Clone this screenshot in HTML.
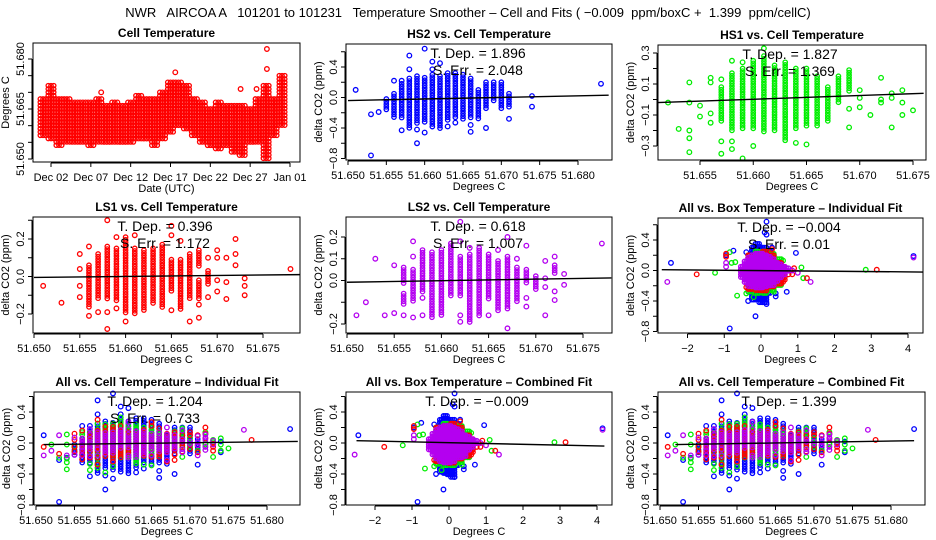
<!DOCTYPE html>
<html><head><meta charset="utf-8"><style>
body{margin:0;background:#fff}
svg{display:block;font-family:"Liberation Sans",Arial,sans-serif}
</style></head><body>
<svg id="c" width="936" height="540" viewBox="0 0 936 540">
<text x="468" y="17" text-anchor="middle" font-size="13" style="white-space:pre" xml:space="preserve">NWR   AIRCOA A   101201 to 101231   Temperature Smoother – Cell and Fits ( −0.009  ppm/boxC +  1.399  ppm/cellC)</text>
</svg>
<script>
// ---- data ----
const cellDays=[0,1,2,3,4,5,6,7,8,9,10,11,12,13,14,15,16,17,18,19,20,21,22,23,24,25,26,27,28,29,30];
const cellLo=[51.657,51.656,51.654,51.655,51.655,51.655,51.654,51.655,51.655,51.655,51.655,51.655,51.656,51.656,51.654,51.656,51.658,51.660,51.659,51.657,51.655,51.654,51.653,51.654,51.652,51.651,51.655,51.655,51.650,51.657,51.660];
const cellHi=[51.668,51.672,51.668,51.668,51.667,51.667,51.667,51.668,51.666,51.667,51.666,51.667,51.669,51.668,51.668,51.670,51.673,51.673,51.672,51.668,51.667,51.665,51.667,51.666,51.666,51.666,51.665,51.668,51.672,51.668,51.675];
const cellOut=[[7.3,51.670],[16.6,51.676],[24.8,51.671],[28.1,51.683],[28.1,51.677],[26.8,51.671]];
const dayTicks=[1,6,11,16,21,26,31];
const dayLabels=["Dec 02","Dec 07","Dec 12","Dec 17","Dec 22","Dec 27","Jan 01"];

const hs2Cols=[[51.655,-0.17,-0.02],[51.656,-0.27,0.05],[51.657,-0.27,0.18],[51.658,-0.4,0.25],[51.659,-0.35,0.28],[51.660,-0.35,0.26],[51.661,-0.4,0.3],[51.662,-0.42,0.28],[51.663,-0.32,0.32],[51.664,-0.28,0.32],[51.665,-0.3,0.3],[51.666,-0.27,0.25],[51.667,-0.28,0.1],[51.668,-0.15,0.2],[51.669,-0.05,0.2],[51.670,-0.15,0.2],[51.671,-0.15,0.05],[51.674,0,0.02]];
const hs2Pts=[[51.651,0.1],[51.653,-0.22],[51.653,-0.76],[51.654,-0.19],[51.656,0.22],[51.657,-0.43],[51.657,0.22],[51.658,0.37],[51.658,0.55],[51.659,-0.6],[51.659,-0.42],[51.660,-0.46],[51.660,0.64],[51.661,0.37],[51.661,0.47],[51.662,0.45],[51.663,-0.38],[51.664,-0.33],[51.666,-0.45],[51.666,-0.36],[51.668,-0.4],[51.671,-0.28],[51.674,-0.12],[51.683,0.18]];
const hs2Fit=[51.650,-0.04,51.684,0.03];

const hs1Cols=[[51.657,-0.15,0.08],[51.658,-0.2,0.17],[51.659,-0.2,0.2],[51.660,-0.2,0.25],[51.661,-0.22,0.28],[51.662,-0.2,0.22],[51.663,-0.27,0.24],[51.664,-0.2,0.2],[51.665,-0.17,0.2],[51.666,-0.17,0.15],[51.667,-0.15,0.08],[51.668,-0.03,0.15],[51.669,0.05,0.19]];
const hs1Pts=[[51.652,-0.02],[51.653,-0.19],[51.654,0.11],[51.654,-0.02],[51.654,-0.2],[51.654,-0.25],[51.654,-0.34],[51.655,-0.04],[51.655,-0.11],[51.656,0.14],[51.656,0.11],[51.656,-0.09],[51.656,-0.15],[51.657,-0.27],[51.657,-0.35],[51.657,0.13],[51.658,-0.32],[51.658,-0.27],[51.658,0.25],[51.659,-0.38],[51.659,0.24],[51.660,-0.3],[51.661,0.33],[51.664,-0.28],[51.665,-0.29],[51.669,-0.18],[51.669,-0.06],[51.670,-0.05],[51.670,0.01],[51.670,0.06],[51.671,-0.1],[51.672,0.14],[51.672,0.0],[51.672,-0.02],[51.673,-0.18],[51.673,0.01],[51.673,0.04],[51.674,-0.1],[51.674,-0.02],[51.674,0.06],[51.675,-0.07]];
const hs1Fit=[51.651,-0.02,51.676,0.04];

const ls1Cols=[[51.656,-0.17,0.06],[51.657,-0.12,0.12],[51.658,-0.12,0.16],[51.659,-0.13,0.15],[51.660,-0.2,0.21],[51.661,-0.2,0.15],[51.662,-0.19,0.14],[51.663,-0.15,0.15],[51.664,-0.17,0.17],[51.665,-0.08,0.09],[51.666,-0.18,0.09],[51.667,-0.12,0.12],[51.668,-0.12,-0.02],[51.668,0.05,0.14],[51.669,-0.04,0.03]];
const ls1Pts=[[51.651,-0.05],[51.653,-0.14],[51.655,-0.11],[51.655,-0.05],[51.655,0.04],[51.655,0.12],[51.656,-0.21],[51.656,0.16],[51.657,-0.19],[51.658,-0.28],[51.658,-0.19],[51.658,0.3],[51.659,-0.17],[51.659,0.21],[51.660,-0.24],[51.661,0.22],[51.665,-0.18],[51.665,0.22],[51.665,0.27],[51.666,0.19],[51.667,-0.24],[51.668,-0.22],[51.668,-0.15],[51.669,-0.11],[51.669,0.1],[51.670,-0.08],[51.670,-0.02],[51.670,0.1],[51.670,0.14],[51.671,-0.12],[51.671,-0.03],[51.671,0.1],[51.672,0.06],[51.672,0.12],[51.672,0.2],[51.673,-0.1],[51.673,-0.05],[51.673,-0.01],[51.678,0.04]];
const ls1Fit=[51.650,-0.005,51.679,0.01];

const ls2Cols=[[51.656,-0.11,-0.06],[51.656,-0.02,0.06],[51.657,-0.1,0.05],[51.658,-0.06,0.14],[51.659,-0.17,0.13],[51.660,-0.16,0.14],[51.661,-0.08,0.17],[51.662,-0.08,0.11],[51.663,-0.2,0.12],[51.664,-0.17,0.15],[51.665,-0.09,0.12],[51.666,-0.14,0.09],[51.667,-0.14,0.11],[51.668,-0.1,0.06],[51.669,-0.01,0.05],[51.670,-0.04,0.02],[51.672,0.03,0.07]];
const ls2Pts=[[51.651,-0.16],[51.652,-0.1],[51.653,0.1],[51.654,-0.16],[51.655,-0.15],[51.655,0.07],[51.656,-0.16],[51.657,-0.17],[51.657,0.11],[51.657,0.18],[51.658,-0.16],[51.658,-0.08],[51.662,-0.19],[51.662,-0.16],[51.662,0.18],[51.662,0.27],[51.663,0.15],[51.665,-0.16],[51.666,0.14],[51.667,-0.22],[51.667,0.2],[51.668,0.1],[51.669,-0.12],[51.669,-0.08],[51.669,0.16],[51.671,-0.16],[51.671,-0.03],[51.671,0.01],[51.671,0.09],[51.672,-0.09],[51.672,-0.05],[51.672,0.11],[51.673,-0.02],[51.673,0.03],[51.677,0.17]];
const ls2Fit=[51.650,-0.008,51.678,0.012];

const allCellFit=[51.651,-0.02,51.684,0.02];
const allCellCombFit=[51.652,-0.02,51.683,0.03];

const boxBlueCols=[[-0.3,-0.3,0.2],[-0.2,-0.4,0.3],[-0.1,-0.4,0.35],[0,-0.42,0.3],[0.1,-0.44,0.3],[0.2,-0.3,0.25]];
const boxBluePts=[[-2.45,0.1],[-0.85,-0.76],[-0.15,-0.6],[0.15,0.64],[0.1,0.5],[0.15,0.47],[-0.75,0.26],[0.95,0.23],[0.7,-0.28],[0.4,-0.34],[0.4,-0.3],[4.15,0.19],[-0.95,0.2],[-0.4,0.24],[0.3,0.3],[-0.35,-0.4],[0.15,-0.44]];
const boxGreenCols=[[-0.3,-0.3,0.2],[-0.1,-0.32,0.25],[0.1,-0.3,0.25],[0.3,-0.28,0.22],[0.5,-0.2,0.15]];
const boxGreenPts=[[-1.25,-0.03],[2.85,0.01],[1.1,0.04],[1.15,-0.1],[-0.7,0.11],[-0.8,0.1],[-0.65,-0.33],[0.6,0.13],[0.35,-0.28],[-0.2,-0.35],[-0.4,-0.3],[0.35,0.2],[-0.85,0.24]];
const boxRedCols=[[-0.3,-0.25,0.2],[-0.1,-0.27,0.22],[0.1,-0.27,0.25],[0.3,-0.22,0.2],[0.5,-0.18,0.1],[0.6,-0.15,0.05]];
const boxRedPts=[[-1.75,-0.05],[3.15,0.01],[-0.95,0.22],[-0.95,0.18],[0.85,-0.05],[0.9,0.03],[1.25,-0.1],[0.3,0.28],[0.6,-0.15],[0.75,-0.05],[-0.4,-0.22],[0.0,-0.26]];
const boxMagCols=[[-0.5,-0.1,0.05],[-0.4,-0.18,0.12],[-0.3,-0.22,0.17],[-0.2,-0.24,0.2],[-0.1,-0.25,0.22],[0,-0.25,0.22],[0.1,-0.24,0.2],[0.2,-0.22,0.18],[0.3,-0.2,0.15],[0.4,-0.17,0.1],[0.5,-0.12,0.08],[0.6,-0.08,0.05],[0.7,-0.03,0.03]];
const boxMagPts=[[-2.55,-0.15],[1.35,-0.15],[4.15,0.17],[-0.95,0.05],[1.0,-0.03],[0.85,0.0],[-0.95,0.1]];
const boxIndFit=[-2.7,0.01,4.4,-0.02];
const boxCombFit=[-2.5,0.03,4.2,-0.04];

const ppmTicks=[-0.8,-0.6,-0.4,-0.2,0,0.2,0.4,0.6];
const ppmLabels=["−0.8","","−0.4","","0.0","","0.4",""];
const cellTicksA=[51.650,51.655,51.660,51.665,51.670,51.675,51.680];
const cellTicksB=[51.650,51.655,51.660,51.665,51.670,51.675];
const cellTicksC=[51.655,51.660,51.665,51.670,51.675];
const boxTicks=[-2,-1,0,1,2,3,4];

const BLUE="#0000ff",GREEN="#00ee00",RED="#ff0000",MAG="#b400f0";
const svg=document.getElementById('c');
const NS="http://www.w3.org/2000/svg";
function mk(tag,attrs,parent){const e=document.createElementNS(NS,tag);for(const k in attrs)e.setAttribute(k,attrs[k]);(parent||svg).appendChild(e);return e;}
function lin(v0,p0,v1,p1){const k=(p1-p0)/(v1-v0);return v=>p0+(v-v0)*k;}
function fmt(v,d){return (v<0?"−":"")+Math.abs(v).toFixed(d);}

function panel(o){
  const g=mk('g',{});
  
  
  const [x0,y0,x1,y1]=o.box;
  const X=o.X,Y=o.Y;
  const t=mk('text',{x:(x0+x1)/2,y:y0-6,'text-anchor':'middle','font-size':12,'font-weight':'bold'},g);
  t.textContent=o.title;
  
  
  const cg=mk('g',{fill:'none','stroke-width':1.3},g);
  
  
  const step=o.step||2.6;
  for(const s of o.series){
    for(const c of s.cols){
      const py0=Y(c[2]),py1=Y(c[1]);
      const offs=s.offs||[0];
      for(const off of offs){
        for(let py=py0;py<=py1+0.01;py+=step){
          const m=mk('circle',{cx:X(c[0])+off,cy:py,r:2.2,stroke:s.color},cg);
          
          
        }
      }
    }
    for(const p of s.pts){
      const m=mk('circle',{cx:X(p[0]),cy:Y(p[1]),r:2.3,stroke:s.color},cg);
      
      
    }
  }
  if(o.fit){
    const f=o.fit;
    const l=mk('line',{x1:X(f[0]),y1:Y(f[1]),x2:X(f[2]),y2:Y(f[3]),stroke:'#000','stroke-width':1.4},g);
    
    
  }
  const r=mk('rect',{x:x0,y:y0,width:x1-x0,height:y1-y0,fill:'none',stroke:'#000','stroke-width':1},g);
  
  
  const xa=mk('g',{},g);
  
  
  const xt=o.xticks;
  mk('line',{x1:X(xt[0]),y1:y1+1,x2:X(xt[xt.length-1]),y2:y1+1,stroke:'#000'},xa);
  xt.forEach((v,i)=>{
    mk('line',{x1:X(v),y1:y1+1,x2:X(v),y2:y1+5,stroke:'#000'},xa);
    const tl=mk('text',{x:X(v),y:y1+19,'text-anchor':'middle','font-size':11},xa);
    tl.textContent=o.xlabels[i];
    
    
  });
  const xl=mk('text',{x:(x0+x1)/2,y:y1+30,'text-anchor':'middle','font-size':11},g);
  xl.textContent=o.xtitle;
  
  
  const ya=mk('g',{},g);
  
  
  const yt=o.yticks;
  mk('line',{x1:x0-1,y1:Y(yt[0]),x2:x0-1,y2:Y(yt[yt.length-1]),stroke:'#000'},ya);
  yt.forEach((v,i)=>{
    mk('line',{x1:x0-1,y1:Y(v),x2:x0-5,y2:Y(v),stroke:'#000'},ya);
    if(o.ylabels[i]){
      const tl=mk('text',{x:x0-9,y:Y(v),'text-anchor':'middle','font-size':11,transform:`rotate(-90 ${x0-9} ${Y(v)})`},ya);
      tl.textContent=o.ylabels[i];
      
      
    }
  });
  const yx=x0-24,yy=(y0+y1)/2;
  const yl=mk('text',{x:yx,y:yy,'text-anchor':'middle','font-size':11,transform:`rotate(-90 ${yx} ${yy})`},g);
  yl.textContent=o.ytitle;
  
  
  (o.notes||[]).forEach((n,i)=>{
    const a=mk('text',{x:o.noteX,y:y0+14+17*i,'text-anchor':'middle','font-size':14},g);
    a.textContent=n;
    
    
  });
}
const cellLbl=a=>a.map(v=>v.toFixed(3));
const ppmT="delta CO2 (ppm)";
const S=(cols,pts,color)=>({cols,pts,color});

panel({name:'cell-temperature-panel',box:[33,43,300,162],X:lin(1,51,31,290),Y:lin(51.650,159,51.680,59),step:3.3,
  title:'Cell Temperature',xtitle:'Date (UTC)',ytitle:'Degrees C',
  xticks:dayTicks,xlabels:dayLabels,
  yticks:[51.650,51.655,51.660,51.665,51.670,51.675,51.680],ylabels:["51.650","","","51.665","","","51.680"],
  series:[{cols:cellDays.map((d,i)=>[d,cellLo[i],cellHi[i]]),pts:cellOut,color:RED,offs:[-2.7,0,2.7]}]});

panel({name:'hs2-panel',box:[346,44,612,160],X:lin(51.650,348,51.680,578),Y:lin(0.4,67,-0.4,128),
  title:'HS2 vs. Cell Temperature',xtitle:'Degrees C',ytitle:ppmT,xticks:cellTicksA,xlabels:cellLbl(cellTicksA),
  yticks:ppmTicks,ylabels:ppmLabels,series:[S(hs2Cols,hs2Pts,BLUE)],fit:hs2Fit,
  noteX:478,notes:['T. Dep. =  1.896','S. Err. =  2.048']});

panel({name:'hs1-panel',box:[658,45,926,160],X:lin(51.655,700,51.675,913),Y:lin(0.3,53,-0.3,146),
  title:'HS1 vs. Cell Temperature',xtitle:'Degrees C',ytitle:ppmT,xticks:cellTicksC,xlabels:cellLbl(cellTicksC),
  yticks:[-0.3,-0.2,-0.1,0,0.1,0.2,0.3],ylabels:["−0.3","","−0.1","","0.1","","0.3"],series:[S(hs1Cols,hs1Pts,GREEN)],fit:hs1Fit,
  noteX:790,notes:['T. Dep. =  1.827','S. Err. =  1.369']});

panel({name:'ls1-panel',box:[33,217,300,333],X:lin(51.650,34,51.675,263),Y:lin(0.2,239,-0.2,314),
  title:'LS1 vs. Cell Temperature',xtitle:'Degrees C',ytitle:ppmT,xticks:cellTicksB,xlabels:cellLbl(cellTicksB),
  yticks:[-0.2,-0.1,0,0.1,0.2,0.3],ylabels:["−0.2","","0.0","","0.2",""],series:[S(ls1Cols,ls1Pts,RED)],fit:ls1Fit,
  noteX:165,notes:['T. Dep. =  0.396','S. Err. =  1.172']});

panel({name:'ls2-panel',box:[346,217,612,333],X:lin(51.650,347,51.675,583),Y:lin(0.2,237,-0.2,324),
  title:'LS2 vs. Cell Temperature',xtitle:'Degrees C',ytitle:ppmT,xticks:cellTicksB,xlabels:cellLbl(cellTicksB),
  yticks:[-0.2,-0.1,0,0.1,0.2],ylabels:["−0.2","","0.0","0.1","0.2"],series:[S(ls2Cols,ls2Pts,MAG)],fit:ls2Fit,
  noteX:478,notes:['T. Dep. =  0.618','S. Err. =  1.007']});

const boxSeries=[S(boxBlueCols,boxBluePts,BLUE),S(boxGreenCols,boxGreenPts,GREEN),S(boxRedCols,boxRedPts,RED),S(boxMagCols,boxMagPts,MAG)];
boxSeries.forEach(s=>s.offs=[-1.8,0,1.8]);
const cellSeries=[S(hs2Cols,hs2Pts,BLUE),S(hs1Cols,hs1Pts,GREEN),S(ls1Cols,ls1Pts,RED),S(ls2Cols,ls2Pts,MAG)];

panel({name:'all-vs-box-individual-panel',box:[658,218,923,333],X:lin(0,761,4,908),Y:lin(0.4,240,-0.4,301),
  title:'All vs. Box Temperature – Individual Fit',xtitle:'Degrees C',ytitle:ppmT,xticks:boxTicks,xlabels:boxTicks.map(v=>fmt(v,0)),
  yticks:ppmTicks,ylabels:ppmLabels,series:boxSeries,fit:boxIndFit,
  noteX:789,notes:['T. Dep. =  −0.004','S. Err. =  0.01']});

panel({name:'all-vs-cell-individual-panel',box:[34,392,300,505],X:lin(51.650,36,51.680,267),Y:lin(0.4,412,-0.4,474),
  title:'All vs. Cell Temperature – Individual Fit',xtitle:'Degrees C',ytitle:ppmT,xticks:cellTicksA,xlabels:cellLbl(cellTicksA),
  yticks:ppmTicks,ylabels:ppmLabels,series:cellSeries,fit:allCellFit,
  noteX:155,notes:['T. Dep. =  1.204','S. Err. =  0.733']});

panel({name:'all-vs-box-combined-panel',box:[346,392,612,505],X:lin(0,449,4,597),Y:lin(0.4,412,-0.4,474),
  title:'All vs. Box Temperature – Combined Fit',xtitle:'Degrees C',ytitle:ppmT,xticks:boxTicks,xlabels:boxTicks.map(v=>fmt(v,0)),
  yticks:ppmTicks,ylabels:ppmLabels,series:boxSeries,fit:boxCombFit,
  noteX:477,notes:['T. Dep. =  −0.009']});

panel({name:'all-vs-cell-combined-panel',box:[658,392,925,505],X:lin(51.650,660,51.680,891),Y:lin(0.4,412,-0.4,474),
  title:'All vs. Cell Temperature – Combined Fit',xtitle:'Degrees C',ytitle:ppmT,xticks:cellTicksA,xlabels:cellLbl(cellTicksA),
  yticks:ppmTicks,ylabels:ppmLabels,series:cellSeries,fit:allCellCombFit,
  noteX:789,notes:['T. Dep. =  1.399']});
</script>
</body></html>
